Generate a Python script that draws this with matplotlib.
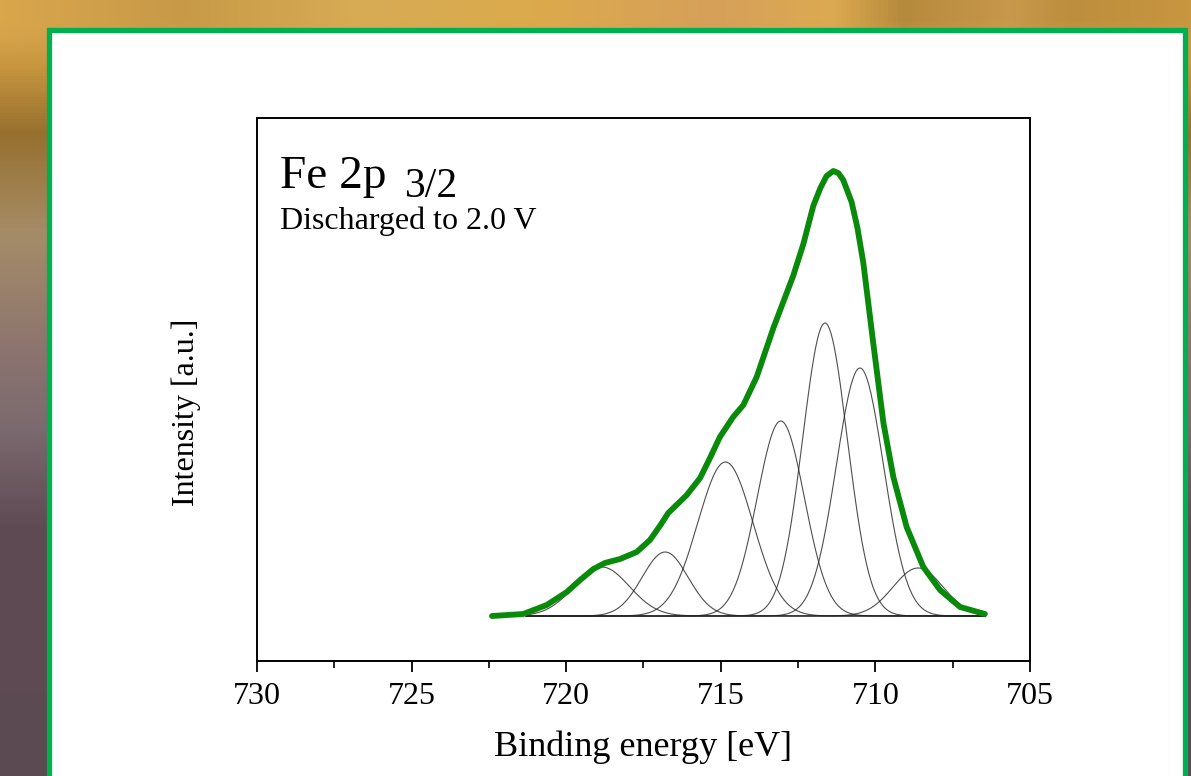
import matplotlib.pyplot as plt
import numpy as np
from matplotlib.patches import Rectangle
from matplotlib.colors import LinearSegmentedColormap

# envelope (green): binding energy [eV], intensity [a.u.]
env_energy = [722.40, 721.39, 720.63, 719.98, 719.55, 719.12, 718.75, 718.26, 717.72,
              717.29, 716.95, 716.70, 716.40, 716.10, 715.67, 715.35, 715.03, 714.60,
              714.27, 713.84, 713.30, 712.66, 712.33, 712.01, 711.78, 711.58, 711.36,
              711.20, 711.04, 710.77, 710.58, 710.39, 710.07, 709.74, 709.42, 708.99,
              708.45, 707.91, 707.26, 706.46]
env_intensity = [0, 2, 11, 24, 36, 47, 53, 57, 64,
                 76, 91, 103, 112, 121, 138, 158, 179, 199,
                 211, 239, 288, 340, 372, 410, 428, 440, 445,
                 443, 436, 414, 388, 353, 273, 193, 139, 89,
                 49, 26, 9, 2]

# fitted components: centre [eV], height [a.u.], FWHM [eV]
comp_center = [718.85, 716.80, 714.85, 713.06, 711.63, 710.50, 708.62]
comp_height = [49, 64, 154, 195, 293, 248, 48]
comp_fwhm = [2.1, 1.75, 2.1, 1.8, 1.7, 1.8, 1.9]
comp_range = (706.45, 721.3)

xticks = [730, 725, 720, 715, 710, 705]

plt.rcParams['font.family'] = ['Liberation Serif', 'DejaVu Serif']

fig = plt.figure(figsize=(11.91, 7.76), dpi=100)

# backdrop behind the white card
bg = fig.add_axes([0, 0, 1, 1], zorder=-10)
bg.set_axis_off()
left_cmap = LinearSegmentedColormap.from_list('left', [
    (0.00, '#d8a650'), (0.08, '#c9973f'), (0.17, '#97702f'), (0.30, '#a58c68'),
    (0.45, '#8c7470'), (0.55, '#7b6a6f'), (0.68, '#5f4b54'), (1.00, '#5c4a53')])
top_cmap = LinearSegmentedColormap.from_list('top', [
    (0.00, '#d9a64c'), (0.15, '#c89a48'), (0.30, '#d7ac55'), (0.45, '#dcaa4c'),
    (0.60, '#d6a05a'), (0.70, '#dcaa50'), (0.76, '#b68a3c'), (0.85, '#c8984c'),
    (0.90, '#bd8e3e'), (1.00, '#c99640')])
h, w = 776, 1191
img = left_cmap(np.linspace(0, 1, h))[:, None, :].repeat(w, axis=1)
top = top_cmap(np.linspace(0, 1, w))[None, :, :]
mix = np.clip((np.arange(h) - 20) / 40.0, 0, 1)[:, None, None]
img = img * mix + top * (1 - mix)
bg.imshow(img, aspect='auto', extent=[0, 1, 0, 1])
bg.set_xlim(0, 1)
bg.set_ylim(0, 1)

card = Rectangle((49.5 / w, -0.02), (1185 - 49.5) / w, 1.02 - 29.5 / h,
                 transform=fig.transFigure, facecolor='white', edgecolor='#00b050',
                 linewidth=3.8, zorder=-5)
fig.patches.append(card)

ax = fig.add_axes([257 / w, 115 / h, (1030 - 257) / w, (661 - 118) / h])
ax.set_facecolor('white')

xs = np.linspace(comp_range[0], comp_range[1], 600)
for c, a, f in zip(comp_center, comp_height, comp_fwhm):
    s = f / 2.3548
    ax.plot(xs, a * np.exp(-(xs - c) ** 2 / (2 * s ** 2)), color='#222222', lw=0.8, alpha=0.8)

ax.plot(env_energy, env_intensity, color='#0a8a0a', lw=4.2, solid_capstyle='round',
        solid_joinstyle='round')

ax.set_xlim(730, 705)
ax.set_ylim(-45, 498)
ax.set_xticks(xticks)
ax.set_xticks(np.arange(705, 730, 2.5), minor=True)
ax.set_yticks([])
ax.tick_params(axis='x', which='major', direction='out', length=8, width=1.3,
               labelsize=23, pad=7)
ax.tick_params(axis='x', which='minor', direction='out', length=5, width=1.2)
for sp in ax.spines.values():
    sp.set_linewidth(1.4)

ax.set_xlabel('Binding energy [eV]', fontsize=26, labelpad=14)
ax.set_ylabel('Intensity [a.u.]', fontsize=23)
ax.yaxis.set_label_coords(-0.072, 0.458)

ax.text(0.03, 0.871, 'Fe 2p', transform=ax.transAxes, fontsize=34, va='baseline')
ax.text(0.192, 0.854, '3/2', transform=ax.transAxes, fontsize=30, va='baseline')
ax.text(0.03, 0.795, 'Discharged to 2.0 V', transform=ax.transAxes, fontsize=23,
        va='baseline')

fig.savefig('out.png', dpi=100)
